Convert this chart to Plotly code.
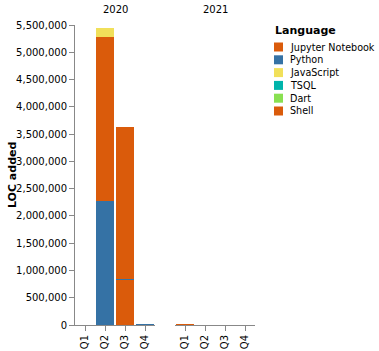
import plotly.graph_objects as go

quarters = ["Q1", "Q2", "Q3", "Q4"]
years = ["2020", "2021"]

# legend order
legend_langs = ["Jupyter Notebook", "Python", "JavaScript", "TSQL", "Dart", "Shell"]
colors = {
    "Jupyter Notebook": "#DA5B0B",
    "Python": "#3572A5",
    "JavaScript": "#F1E05A",
    "TSQL": "#00B4AB",
    "Dart": "#89E051",
    "Shell": "#DA5B0B",
}
# stacking order, bottom to top
stack_order = ["TSQL", "Shell", "Python", "Jupyter Notebook", "JavaScript", "Dart"]

# LOC added per quarter, per year
loc_2020 = {
    "Jupyter Notebook": [0, 3000000, 2793000, 0],
    "Python": [0, 2280000, 12000, 4000],
    "JavaScript": [0, 165000, 0, 0],
    "TSQL": [0, 0, 1500, 0],
    "Dart": [0, 0, 0, 0],
    "Shell": [0, 0, 825000, 0],
}
loc_2021 = {
    "Jupyter Notebook": [4000, 0, 0, 0],
    "Python": [0, 0, 0, 0],
    "JavaScript": [0, 0, 0, 0],
    "TSQL": [0, 0, 0, 0],
    "Dart": [0, 0, 0, 0],
    "Shell": [0, 0, 0, 0],
}
y_ticks = list(range(0, 5500001, 500000))

W, H = 379, 351
L, R, T, B = 75, 255, 25, 325
FONT = "DejaVu Sans"

fig = go.Figure()
for lang in stack_order:
    fig.add_trace(go.Bar(x=quarters, y=loc_2020[lang], name=lang, xaxis="x", yaxis="y",
                         marker=dict(color=colors[lang], line=dict(width=0)), showlegend=False))
    fig.add_trace(go.Bar(x=quarters, y=loc_2021[lang], name=lang, xaxis="x2", yaxis="y",
                         marker=dict(color=colors[lang], line=dict(width=0)), showlegend=False))

pw = R - L
ph = B - T
def px(x):
    return (x - L) / pw
def py(y):
    return (B - y) / ph

xax = dict(type="category", categoryorder="array", categoryarray=quarters, range=[-0.5, 3.5],
           showline=True, linecolor="#888", linewidth=1, ticks="outside", ticklen=5,
           tickcolor="#888", tickangle=-90, showgrid=False, zeroline=False, automargin=False,
           tickfont=dict(family=FONT, size=10, color="#000"), fixedrange=True)
fig.update_layout(
    width=W, height=H,
    margin=dict(l=L, r=W - R, t=T, b=H - B, pad=0, autoexpand=False),
    paper_bgcolor="white", plot_bgcolor="white",
    barmode="stack", bargap=0.1,
    xaxis=dict(domain=[0, 80 / pw], anchor="y", **xax),
    xaxis2=dict(domain=[100 / pw, 1], anchor="y", **xax),
    yaxis=dict(range=[0, 5500000], tickvals=y_ticks, tickformat=",", showline=True,
               linecolor="#888", linewidth=1, ticks="outside", ticklen=5, tickcolor="#888",
               showgrid=False, zeroline=False, anchor="x", automargin=False,
               tickfont=dict(family=FONT, size=10, color="#000")),
    font=dict(family=FONT, size=10, color="#000"),
)

ann = []
ann.append(dict(text="2020", x=40 / pw, y=py(9), xref="paper", yref="paper", showarrow=False,
                font=dict(family=FONT, size=10, color="#000"), xanchor="center", yanchor="middle"))
ann.append(dict(text="2021", x=140 / pw, y=py(9), xref="paper", yref="paper", showarrow=False,
                font=dict(family=FONT, size=10, color="#000"), xanchor="center", yanchor="middle"))
ann.append(dict(text="<b>LOC added</b>", x=px(12), y=py(175), xref="paper", yref="paper",
                showarrow=False, textangle=-90, font=dict(family=FONT, size=11, color="#000"),
                xanchor="center", yanchor="middle"))
ann.append(dict(text="<b>Language</b>", x=px(273), y=py(30), xref="paper", yref="paper",
                showarrow=False, font=dict(family=FONT, size=11, color="#000"),
                xanchor="left", yanchor="middle"))
shapes = []
for i, lang in enumerate(legend_langs):
    cy = 47 + i * 12.8
    shapes.append(dict(type="rect", xref="paper", yref="paper", x0=px(274), x1=px(283),
                       y0=py(cy - 4.5), y1=py(cy + 4.5), fillcolor=colors[lang], line=dict(width=0)))
    ann.append(dict(text=lang, x=px(288), y=py(cy), xref="paper", yref="paper", showarrow=False,
                    font=dict(family=FONT, size=9.6, color="#000"), xanchor="left", yanchor="middle"))
fig.update_layout(annotations=ann, shapes=shapes)

fig.write_html("out.html")
